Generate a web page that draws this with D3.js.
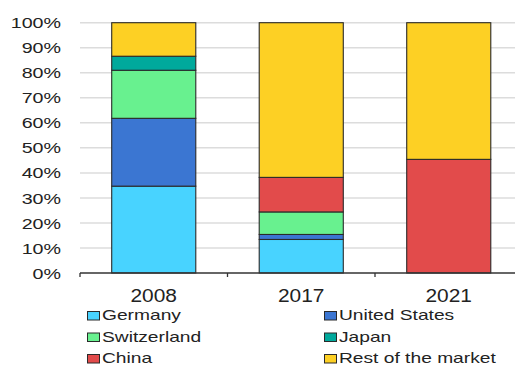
<!DOCTYPE html>
<html>
<head>
<meta charset="utf-8">
<script src="https://cdn.jsdelivr.net/npm/d3@7"></script>
<style>
  html, body { margin: 0; padding: 0; background: #fff; }
  svg { display: block; font-family: "Liberation Sans", Arial, sans-serif; }
</style>
</head>
<body>
<svg id="chart" width="515" height="365"></svg>
<script>
const categories = ["2008", "2017", "2021"];
const seriesNames = ["Germany", "United States", "Switzerland", "Japan", "China", "Rest of the market"];
const germany      = [34.7, 13.4, 0];
const unitedStates = [27.1, 2.0, 0];
const switzerland  = [19.2, 9.0, 0];
const japan        = [5.6, 0, 0];
const china        = [0, 13.8, 45.4];
const restOfMarket = [13.4, 61.8, 54.6];
const yTicks = [0, 10, 20, 30, 40, 50, 60, 70, 80, 90, 100];
const colors = ["#48D3FF", "#3B76D2", "#68F18F", "#00A99C", "#E24B4B", "#FDD024"];

const seriesValues = [germany, unitedStates, switzerland, japan, china, restOfMarket];
const rows = categories.map((c, i) => {
  const r = { cat: c };
  seriesNames.forEach((s, j) => { r[s] = seriesValues[j][i]; });
  return r;
});

const svg = d3.select("#chart");
const mLeft = 80, mRight = 522.5, mTop = 22.7, mBottom = 273;

const x = d3.scaleBand().domain(categories).range([mLeft, mRight]).padding(0);
const y = d3.scaleLinear().domain([0, 100]).range([mBottom, mTop]);
const barW = x.bandwidth() * 0.57;

// gridlines
svg.append("g").selectAll("line").data(yTicks.filter(t => t > 0)).join("line")
  .attr("x1", mLeft).attr("x2", 515)
  .attr("y1", d => y(d)).attr("y2", d => y(d))
  .attr("stroke", "#dcdcdc").attr("stroke-width", 1.5);

// y labels
svg.append("g").selectAll("text").data(yTicks).join("text")
  .attr("transform", d => `translate(61,${y(d)}) scale(1.27,1)`)
  .attr("text-anchor", "end").attr("dy", "0.36em")
  .attr("font-size", 15.5).attr("fill", "#222")
  .text(d => d + "%");

// stacked bars
const stack = d3.stack().keys(seriesNames)(rows);
const gBars = svg.append("g");
stack.forEach((layer, j) => {
  gBars.append("g").selectAll("rect").data(layer.filter(d => d[1] - d[0] > 0)).join("rect")
    .attr("x", d => x(d.data.cat) + (x.bandwidth() - barW) / 2)
    .attr("width", barW)
    .attr("y", d => y(d[1]))
    .attr("height", d => y(d[0]) - y(d[1]))
    .attr("fill", colors[j])
    .attr("stroke", "#2a2a2a").attr("stroke-width", 1.1);
});

// x axis
svg.append("line").attr("x1", mLeft).attr("x2", 515).attr("y1", mBottom).attr("y2", mBottom)
  .attr("stroke", "#333").attr("stroke-width", 1.3);
const tickPos = [mLeft].concat(categories.map(c => x(c) + x.bandwidth()));
svg.append("g").selectAll("line").data(tickPos.filter(p => p <= 515)).join("line")
  .attr("x1", d => d).attr("x2", d => d).attr("y1", mBottom).attr("y2", mBottom + 4)
  .attr("stroke", "#333").attr("stroke-width", 1.3);
svg.append("g").selectAll("text").data(categories).join("text")
  .attr("transform", d => `translate(${x(d) + x.bandwidth() / 2},301.5) scale(1.1,1)`)
  .attr("text-anchor", "middle").attr("font-size", 19).attr("fill", "#222")
  .text(d => d);

// legend
const legendCols = [87.5, 324.5];
const legendRows = [320, 341.5, 363];
const lg = svg.append("g").selectAll("g").data(seriesNames).join("g")
  .attr("transform", (d, i) => `translate(${legendCols[i % 2]},${legendRows[Math.floor(i / 2)]})`);
lg.append("rect").attr("x", 0).attr("y", -8.5).attr("width", 12).attr("height", 8.5)
  .attr("fill", (d, i) => colors[i]).attr("stroke", "#2a2a2a").attr("stroke-width", 1);
lg.append("text").attr("transform", "translate(14.5,0) scale(1.28,1)")
  .attr("font-size", 15).attr("fill", "#222").text(d => d);
</script>
</body>
</html>
